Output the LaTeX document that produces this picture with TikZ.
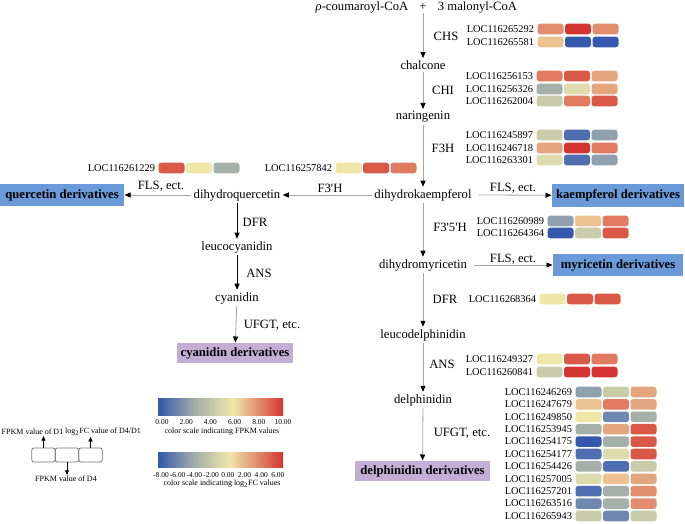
\documentclass[tikz,border=0pt]{standalone}
\usepackage{fontspec}
\setmainfont{Liberation Serif}
\usetikzlibrary{arrows.meta}

% heat-map cell colours
\definecolor{hmRedA}{HTML}{D43530}
\definecolor{hmRedB}{HTML}{DA5846}
\definecolor{hmSalmon}{HTML}{E07A60}
\definecolor{hmCoral}{HTML}{E08E6E}
\definecolor{hmApricot}{HTML}{E4A67E}
\definecolor{hmPeach}{HTML}{ECC290}
\definecolor{hmYellow}{HTML}{EFE7A8}
\definecolor{hmKhaki}{HTML}{DEDBAE}
\definecolor{hmSage}{HTML}{C8CCA8}
\definecolor{hmGray}{HTML}{A6B0AA}
\definecolor{hmSlate}{HTML}{8FA1AE}
\definecolor{hmBlueC}{HTML}{6E88B2}
\definecolor{hmBlueB}{HTML}{4E6EB0}
\definecolor{hmBlueA}{HTML}{3358AC}
\definecolor{derivBlue}{HTML}{6A9AD8}
\definecolor{derivPurple}{HTML}{C3AFD6}

\pgfdeclarehorizontalshading{fpkmscale}{100bp}{color(0bp)=(hmBlueA); color(25bp)=(hmBlueA); color(40bp)=(hmGray); color(55bp)=(hmYellow); color(75bp)=(hmRedA); color(100bp)=(hmRedA)}
\pgfdeclarehorizontalshading{fcscale}{100bp}{color(0bp)=(hmBlueA); color(25bp)=(hmBlueA); color(40bp)=(hmGray); color(53.6bp)=(hmYellow); color(75bp)=(hmRedA); color(100bp)=(hmRedA)}

\tikzset{every picture/.style={line width=0.75pt}}
\tikzset{
  flow/.style={draw={rgb, 255:red, 165; green, 165; blue, 165}, line width=0.6pt, -{Triangle[length=4.5pt,width=3.8pt,color=black]}},
  flowdark/.style={flow, draw=black},
  mol/.style={font=\fontsize{9.5}{11}\selectfont, inner sep=1.5pt},
  enz/.style={font=\fontsize{9.5}{11}\selectfont, inner sep=0pt},
  genelbl/.style={font=\fontsize{7.8}{9}\selectfont, inner sep=0pt, anchor=east},
  cell/.style={rounded corners=2pt, minimum width=19.5pt, minimum height=7.9pt, inner sep=0pt, anchor=west},
  derivbox/.style={font=\fontsize{9.5}{11}\selectfont\bfseries, inner sep=0pt},
  lgcell/.style={draw={rgb, 255:red, 120; green, 120; blue, 120}, line width=0.6pt, rounded corners=1.5pt, minimum width=17.5pt, minimum height=10.5pt, inner sep=0pt},
  lgarrow/.style={draw=black, line width=0.6pt, -{Triangle[length=3.5pt,width=3pt]}},
  small/.style={font=\fontsize{6}{7}\selectfont, inner sep=0.5pt},
  tick/.style={font=\fontsize{5.6}{7}\selectfont, inner sep=0.5pt}
}

% one gene: label, then D1 / D4 / log2FC cells
\newcommand{\generow}[6]{%
  \node[genelbl] (#3) at (#1-2.5,#2) {#3};
  \node[cell, fill=#4] (#3-a) at (#1,#2) {};
  \node[cell, fill=#5] (#3-b) at (#1+27.5,#2) {};
  \node[cell, fill=#6] (#3-c) at (#1+55,#2) {};
}

\begin{document}
\begin{tikzpicture}[x=0.75pt,y=0.75pt,yscale=-1,xscale=1]
\useasboundingbox (0,0) rectangle (685,524);

%Substrates
\node[mol] (coumaroyl) at (362,7) {{\itshape ρ}-coumaroyl-CoA};
\node[mol] (plus) at (423,7) {+};
\node[mol] (malonyl) at (477.5,7) {3 malonyl-CoA};

%Main column
\node[mol] (chalcone) at (423,65) {chalcone};
\node[mol] (naringenin) at (423,117) {naringenin};
\node[mol] (dhk) at (423,195) {dihydrokaempferol};
\node[mol] (dhm) at (423,265) {dihydromyricetin};
\node[mol] (leucodelph) at (423,335) {leucodelphinidin};
\node[mol] (delph) at (423,400) {delphinidin};
\node[derivbox, fill=derivPurple, minimum width=101.25pt, minimum height=15pt] (delphder) at (422.5,471) {delphinidin derivatives};

%Left branch
\node[mol] (dhq) at (237,195) {dihydroquercetin};
\node[mol] (leucocy) at (237,247) {leucocyanidin};
\node[mol] (cyanidin) at (237,298) {cyanidin};
\node[derivbox, fill=derivPurple, minimum width=87pt, minimum height=15pt] (cyander) at (235,353) {cyanidin derivatives};
\node[derivbox, fill=derivBlue, minimum width=93pt, minimum height=16.5pt] (quercder) at (62,195) {quercetin derivatives};

%Right branches
\node[derivbox, fill=derivBlue, minimum width=99pt, minimum height=17.25pt] (kaempder) at (618,195.5) {kaempferol derivatives};
\node[derivbox, fill=derivBlue, minimum width=97.5pt, minimum height=16.5pt] (myricder) at (618,265) {myricetin derivatives};

%Arrows
\draw[flow] (plus) -- (chalcone);
\draw[flow] (chalcone) -- (naringenin);
\draw[flow] (naringenin) -- (dhk);
\draw[flow] (dhk) -- (dhm);
\draw[flow] (dhm) -- (leucodelph);
\draw[flow] (leucodelph) -- (delph);
\draw[flow] (delph) -- (delphder);
\draw[flow] (dhk) -- (dhq);
\draw[flow] (dhq) -- (quercder);
\draw[flowdark] (dhq) -- (leucocy);
\draw[flowdark] (leucocy) -- (cyanidin);
\draw[flow] (cyanidin) -- (cyander);
\draw[flow] (dhk.east) ++(5,0) coordinate (dhkout) (dhkout) -- (kaempder);
\draw[flow] (dhm.east) ++(5,0) coordinate (dhmout) (dhmout) -- (myricder);

%Enzymes
\node[enz] (chs) at (446,36) {CHS};
\node[enz] (chi) at (443,90) {CHI};
\node[enz] (f3h) at (443,148) {F3H};
\node[enz] (f35h) at (450,227) {F3\textquotesingle5\textquotesingle H};
\node[enz] (dfrR) at (445,299) {DFR};
\node[enz] (ansR) at (442,364) {ANS};
\node[enz] (ufgtR) at (462,433) {UFGT, etc.};
\node[enz] (f3ph) at (330,188) {F3\textquotesingle H};
\node[enz] (flsL) at (161,186) {FLS, ect.};
\node[enz] (dfrL) at (255,222) {DFR};
\node[enz] (ansL) at (259,273) {ANS};
\node[enz] (ufgtL) at (272,325) {UFGT, etc.};
\node[enz] (flsK) at (513,188) {FLS, ect.};
\node[enz] (flsM) at (513,259) {FLS, ect.};

%Gene expression
\generow{537}{29}{LOC116265292}{hmCoral}{hmRedA}{hmCoral}
\generow{537}{42}{LOC116265581}{hmPeach}{hmBlueA}{hmBlueA}
\generow{536}{76}{LOC116256153}{hmSalmon}{hmRedB}{hmApricot}
\generow{536}{89}{LOC116256326}{hmGray}{hmKhaki}{hmApricot}
\generow{536}{101}{LOC116262004}{hmSage}{hmSalmon}{hmRedB}
\generow{536}{135}{LOC116245897}{hmSage}{hmBlueB}{hmSlate}
\generow{536}{148}{LOC116246718}{hmApricot}{hmRedA}{hmSalmon}
\generow{536}{160}{LOC116263301}{hmKhaki}{hmBlueB}{hmSlate}
\generow{335}{168}{LOC116257842}{hmYellow}{hmRedB}{hmSalmon}
\generow{158}{168}{LOC116261229}{hmRedB}{hmYellow}{hmGray}
\generow{547}{221}{LOC116260989}{hmSlate}{hmPeach}{hmSalmon}
\generow{547}{233}{LOC116264364}{hmBlueA}{hmSage}{hmRedB}
\generow{539}{299}{LOC116268364}{hmYellow}{hmRedB}{hmRedB}
\generow{536}{359}{LOC116249327}{hmYellow}{hmRedB}{hmSalmon}
\generow{536}{372}{LOC116260841}{hmSage}{hmRedA}{hmRedA}
\foreach \loc/\ca/\cb/\cc [count=\i from 0] in {
  LOC116246269/hmSlate/hmSage/hmApricot,
  LOC116247679/hmPeach/hmSalmon/hmApricot,
  LOC116249850/hmYellow/hmBlueC/hmGray,
  LOC116253945/hmGray/hmApricot/hmRedB,
  LOC116254175/hmBlueA/hmGray/hmRedB,
  LOC116254177/hmBlueB/hmKhaki/hmRedB,
  LOC116254426/hmGray/hmBlueB/hmSage,
  LOC116257005/hmKhaki/hmPeach/hmApricot,
  LOC116257201/hmBlueB/hmGray/hmCoral,
  LOC116263516/hmBlueC/hmGray/hmCoral,
  LOC116265943/hmSage/hmBlueC/hmSage}
  {\generow{575}{392+12.4*\i}{\loc}{\ca}{\cb}{\cc}}

%Legend
\node[lgcell] (lg1) at (43.5,455) {};
\node[lgcell] (lg2) at (67,455) {};
\node[lgcell] (lg3) at (90.5,455) {};
\node[small] (lgD1) at (32.5,432) {FPKM value of D1};
\node[small] (lgFC) at (103,432) {log\textsubscript{2}FC value of D4/D1};
\node[small] (lgD4) at (66,479) {FPKM value of D4};
\draw[lgarrow] (lg1.north) -- (lg1.north |- lgD1.south);
\draw[lgarrow] (lg3.north) -- (lg3.north |- lgFC.south);
\draw[lgarrow] (lg2.south) -- (lg2.south |- lgD4.north);

%Colour scales
\node[shading=fpkmscale, minimum width=93.75pt, minimum height=12.75pt, inner sep=0pt] (fpkmbar) at (220.5,406.5) {};
\foreach \v [count=\i from 0] in {0.00,2.00,4.00,6.00,8.00,10.00}
  \node[tick] (fpkmtick\i) at (162+24.2*\i,422) {\v};
\node[small] (fpkmcap) at (222,432) {color scale indicating FPKM values};
\node[shading=fcscale, minimum width=93.75pt, minimum height=11.25pt, inner sep=0pt] (fcbar) at (220.5,459.5) {};
\foreach \v [count=\i from 0] in {-8.00,-6.00,-4.00,-2.00,0.00,2.00,4.00,6.00}
  \node[tick] (fctick\i) at (161+16.7*\i,475) {\v};
\node[small] (fccap) at (222,484) {color scale indicating log\textsubscript{2}FC values};

\end{tikzpicture}
\end{document}
